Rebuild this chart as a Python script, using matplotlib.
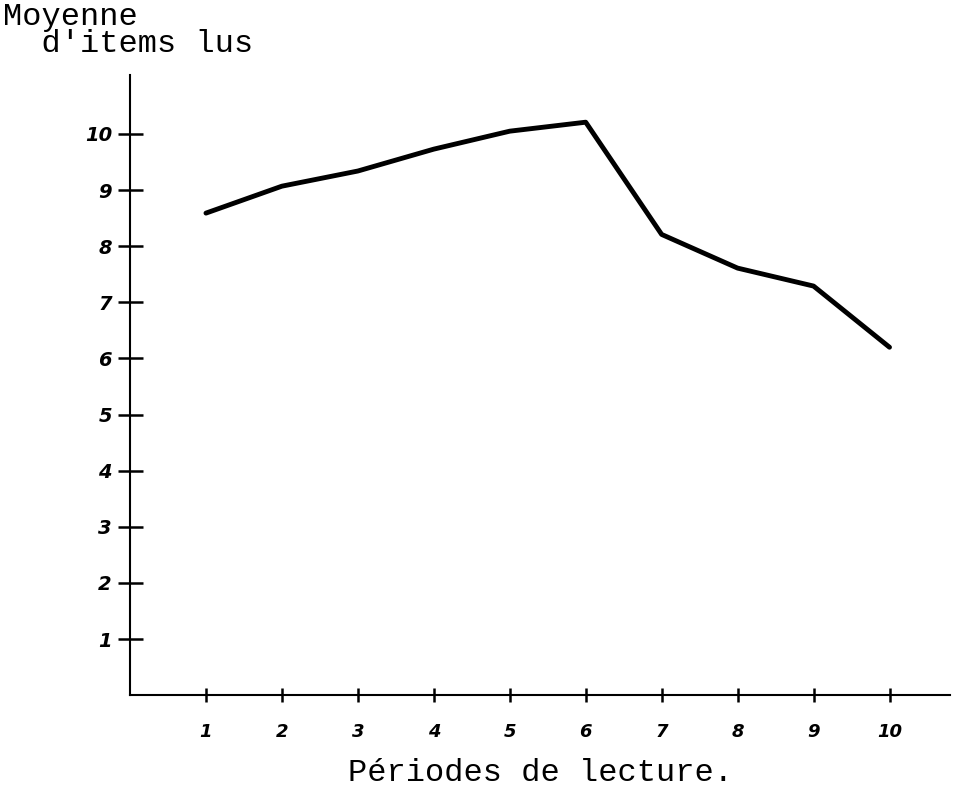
import matplotlib
matplotlib.use("Agg")
import matplotlib.pyplot as plt

# Reading periods and mean items read
periods = [1, 2, 3, 4, 5, 6, 7, 8, 9, 10]
mean_items = [8.59, 9.07, 9.34, 9.73, 10.05, 10.21, 8.21, 7.61, 7.29, 6.20]

y_ticks = [1, 2, 3, 4, 5, 6, 7, 8, 9, 10]
x_tick_labels = ["1", "2", "3", "4", "5", "6", "7", "8", "9", "10"]
y_tick_labels = ["1", "2", "3", "4", "5", "6", "7", "8", "9", "10"]

hand = dict(family="DejaVu Sans", style="italic", weight="bold")
mono = "Liberation Mono"

fig = plt.figure(figsize=(9.56, 7.9), dpi=100)
ax = fig.add_axes([0.136, 0.120, 0.858, 0.785])

ax.plot(periods, mean_items, color="black", lw=3.5, solid_joinstyle="round",
        solid_capstyle="round")

ax.set_xlim(0, 10.8)
ax.set_ylim(0, 11.05)

for side in ("top", "right"):
    ax.spines[side].set_visible(False)
for side in ("left", "bottom"):
    ax.spines[side].set_linewidth(1.5)

ax.set_xticks(periods)
ax.set_xticklabels(x_tick_labels, fontsize=13, **hand)
ax.set_yticks(y_ticks)
ax.set_yticklabels(y_tick_labels, fontsize=14, **hand)
ax.tick_params(axis="y", direction="inout", length=18, width=1.8, pad=4)
ax.tick_params(axis="x", direction="inout", length=10, width=1.8, pad=15)

ax.set_xlabel("Périodes de lecture.", family=mono, fontsize=23, labelpad=12)

# y-axis title, typed in two lines at the top-left corner
fig.text(0.003, 0.997, "Moyenne\n  d'items lus", family=mono, fontsize=23,
         va="top", ha="left", linespacing=0.85)

fig.savefig("out.png", dpi=100)
